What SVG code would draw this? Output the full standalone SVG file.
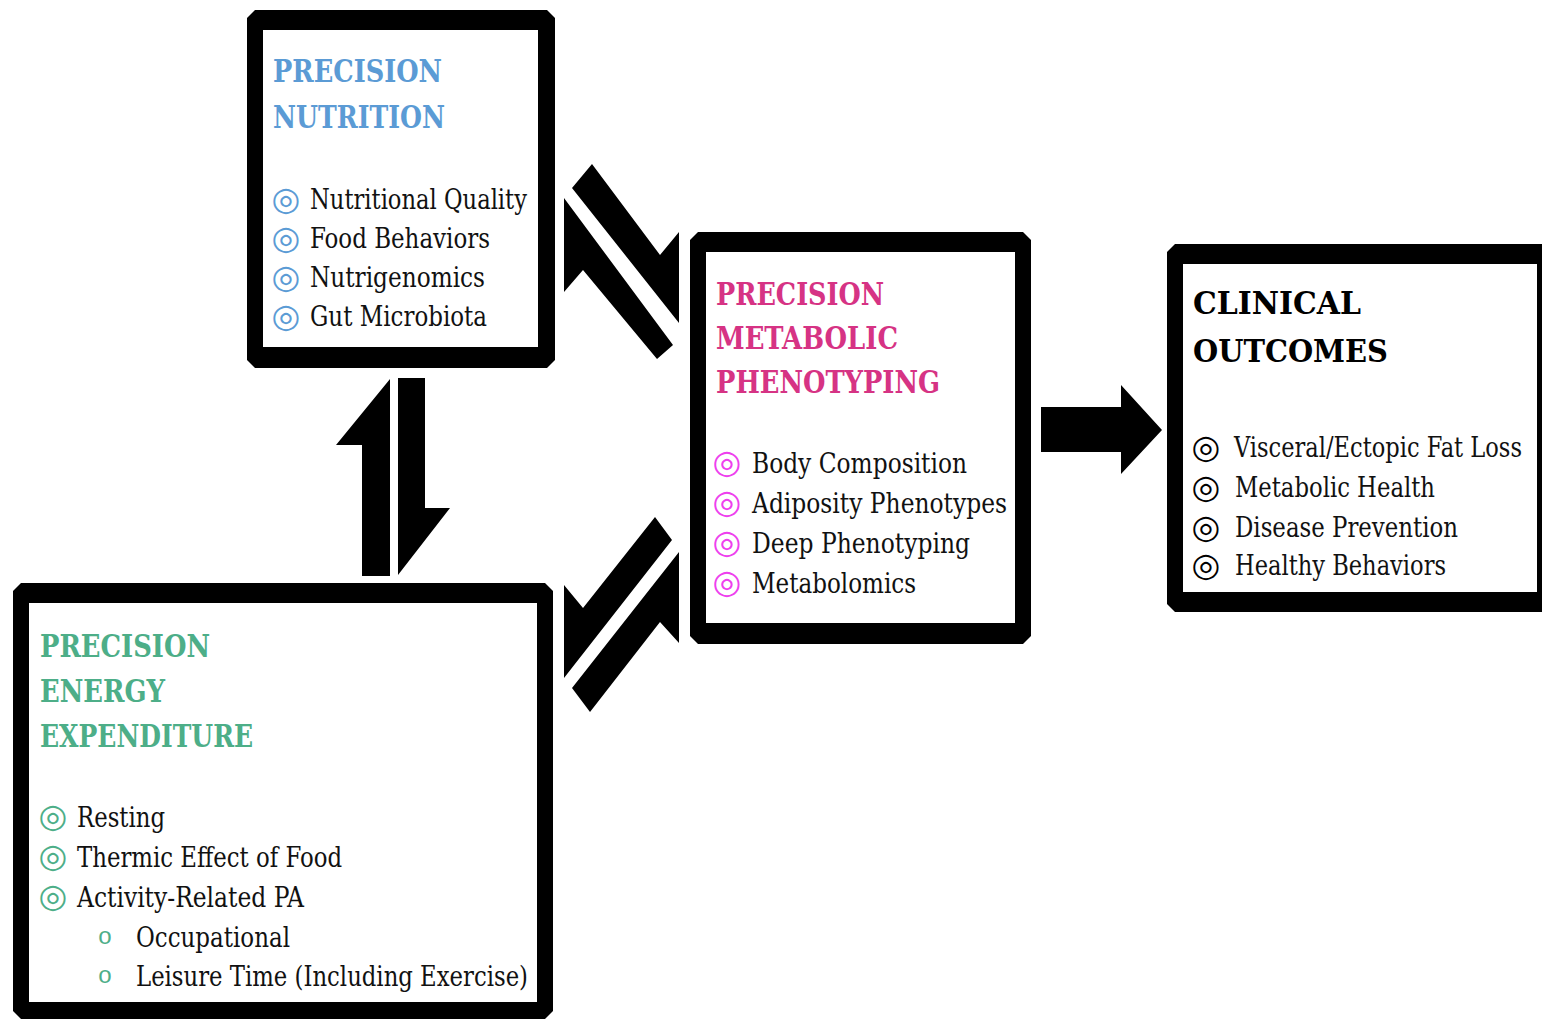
<svg xmlns="http://www.w3.org/2000/svg" width="1542" height="1019" viewBox="0 0 1542 1019">
<style>
.frame{fill:#000}
.inner{fill:#fff}
.title{font-family:"DejaVu Serif","Liberation Serif",serif;font-weight:bold;font-size:32px;font-stretch:condensed}
.item{font-family:"DejaVu Serif","Liberation Serif",serif;font-size:27px;fill:#111;font-stretch:condensed}
.bul{font-family:"DejaVu Sans",sans-serif;font-size:33px;text-anchor:middle}
.sub{font-family:"Liberation Mono",monospace;font-size:24px;text-anchor:middle}
.blue{fill:#5B9BD5}
.pink{fill:#D63384}
.mag{fill:#EE3FEE}
.green{fill:#4DAE88}
.black{fill:#000}
.arrow{fill:#000}
</style>
<rect width="1542" height="1019" fill="#fff"/>

<g id="connectors">
  <polygon class="arrow" points="390,379 336,445 362,445 362,576 390,576"/>
  <polygon class="arrow" points="398,378 425,378 425,508 450,508 398,575"/>
  <polygon class="arrow" points="572,188 592,164 660,255 679,232 679,323"/>
  <polygon class="arrow" points="564,198 673,345 657,359 583,270 564,292"/>
  <polygon class="arrow" points="655,517 583,608 564,585 564,678 672,540"/>
  <polygon class="arrow" points="572,688 679,552 679,643 660,622 590,712"/>
  <polygon class="arrow" points="1041,407 1121,407 1121,385 1162,430 1121,474 1121,452 1041,452"/>
</g>

<g id="node-nutrition">
  <polygon class="frame" points="255,10 547,10 555,18 555,360 547,368 255,368 247,360 247,18"/>
  <rect class="inner" x="263" y="30" width="275" height="317"/>
  <text class="title blue" x="273" y="82" textLength="169" lengthAdjust="spacingAndGlyphs">PRECISION</text>
  <text class="title blue" x="273" y="128" textLength="172" lengthAdjust="spacingAndGlyphs">NUTRITION</text>
  <text class="bul blue" x="286" y="210">◎</text>
  <text class="bul blue" x="286" y="249">◎</text>
  <text class="bul blue" x="286" y="288">◎</text>
  <text class="bul blue" x="286" y="327">◎</text>
  <text class="item" x="310" y="209" textLength="217" lengthAdjust="spacingAndGlyphs">Nutritional Quality</text>
  <text class="item" x="310" y="248" textLength="180" lengthAdjust="spacingAndGlyphs">Food Behaviors</text>
  <text class="item" x="310" y="287" textLength="175" lengthAdjust="spacingAndGlyphs">Nutrigenomics</text>
  <text class="item" x="310" y="326" textLength="177" lengthAdjust="spacingAndGlyphs">Gut Microbiota</text>
</g>

<g id="node-metabolic">
  <polygon class="frame" points="698,232 1023,232 1031,240 1031,636 1023,644 698,644 690,636 690,240"/>
  <rect class="inner" x="706" y="252" width="309" height="371"/>
  <text class="title pink" x="716" y="305" textLength="168" lengthAdjust="spacingAndGlyphs">PRECISION</text>
  <text class="title pink" x="716" y="349" textLength="182" lengthAdjust="spacingAndGlyphs">METABOLIC</text>
  <text class="title pink" x="716" y="393" textLength="224" lengthAdjust="spacingAndGlyphs">PHENOTYPING</text>
  <text class="bul mag" x="727" y="473">◎</text>
  <text class="bul mag" x="727" y="513">◎</text>
  <text class="bul mag" x="727" y="553">◎</text>
  <text class="bul mag" x="727" y="593">◎</text>
  <text class="item" x="752" y="473" textLength="215" lengthAdjust="spacingAndGlyphs">Body Composition</text>
  <text class="item" x="752" y="513" textLength="255" lengthAdjust="spacingAndGlyphs">Adiposity Phenotypes</text>
  <text class="item" x="752" y="553" textLength="218" lengthAdjust="spacingAndGlyphs">Deep Phenotyping</text>
  <text class="item" x="752" y="593" textLength="164" lengthAdjust="spacingAndGlyphs">Metabolomics</text>
</g>

<g id="node-clinical">
  <polygon class="frame" points="1175,244 1550,244 1550,612 1175,612 1167,604 1167,252"/>
  <rect class="inner" x="1183" y="264" width="354" height="328"/>
  <text class="title black" x="1193" y="314" textLength="168" lengthAdjust="spacingAndGlyphs">CLINICAL</text>
  <text class="title black" x="1193" y="362" textLength="195" lengthAdjust="spacingAndGlyphs">OUTCOMES</text>
  <text class="bul black" x="1206" y="458">◎</text>
  <text class="bul black" x="1206" y="498">◎</text>
  <text class="bul black" x="1206" y="538">◎</text>
  <text class="bul black" x="1206" y="576">◎</text>
  <text class="item" x="1234" y="457" textLength="288" lengthAdjust="spacingAndGlyphs">Visceral/Ectopic Fat Loss</text>
  <text class="item" x="1235" y="497" textLength="200" lengthAdjust="spacingAndGlyphs">Metabolic Health</text>
  <text class="item" x="1235" y="537" textLength="223" lengthAdjust="spacingAndGlyphs">Disease Prevention</text>
  <text class="item" x="1235" y="575" textLength="211" lengthAdjust="spacingAndGlyphs">Healthy Behaviors</text>
</g>

<g id="node-energy">
  <polygon class="frame" points="21,583 545,583 553,591 553,1011 545,1019 21,1019 13,1011 13,591"/>
  <rect class="inner" x="29" y="603" width="508" height="399"/>
  <text class="title green" x="40" y="657" textLength="170" lengthAdjust="spacingAndGlyphs">PRECISION</text>
  <text class="title green" x="40" y="702" textLength="125" lengthAdjust="spacingAndGlyphs">ENERGY</text>
  <text class="title green" x="40" y="747" textLength="213" lengthAdjust="spacingAndGlyphs">EXPENDITURE</text>
  <text class="bul green" x="53" y="827">◎</text>
  <text class="bul green" x="53" y="867">◎</text>
  <text class="bul green" x="53" y="907">◎</text>
  <text class="sub green" x="105" y="944">o</text>
  <text class="sub green" x="105" y="983">o</text>
  <text class="item" x="77" y="827" textLength="88" lengthAdjust="spacingAndGlyphs">Resting</text>
  <text class="item" x="77" y="867" textLength="265" lengthAdjust="spacingAndGlyphs">Thermic Effect of Food</text>
  <text class="item" x="77" y="907" textLength="227" lengthAdjust="spacingAndGlyphs">Activity-Related PA</text>
  <text class="item" x="136" y="947" textLength="154" lengthAdjust="spacingAndGlyphs">Occupational</text>
  <text class="item" x="136" y="986" textLength="392" lengthAdjust="spacingAndGlyphs">Leisure Time (Including Exercise)</text>
</g>
</svg>
